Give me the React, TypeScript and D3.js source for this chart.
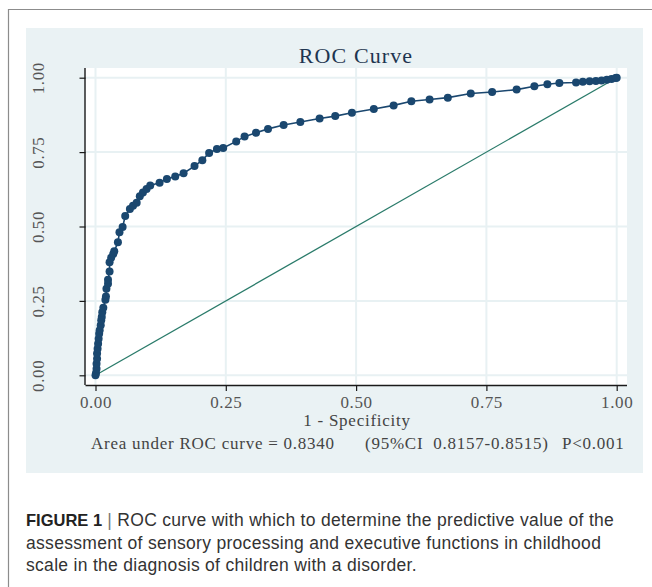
import React, { useEffect, useRef } from "react";
import * as d3 from "d3";

// ROC points: 1 - specificity (x) and sensitivity (y)
const fpr = [
  0, 0.001, 0.002, 0.002, 0.003, 0.003, 0.004, 0.005, 0.006, 0.007, 0.008, 0.01,
  0.011, 0.012, 0.013, 0.015, 0.019, 0.02, 0.021, 0.024, 0.024, 0.027, 0.027,
  0.03, 0.034, 0.036, 0.043, 0.046, 0.052, 0.057, 0.066, 0.072, 0.079, 0.085,
  0.091, 0.098, 0.105, 0.123, 0.137, 0.153, 0.169, 0.19, 0.205, 0.218, 0.233,
  0.245, 0.27, 0.286, 0.308, 0.331, 0.361, 0.393, 0.43, 0.46, 0.492, 0.534,
  0.572, 0.606, 0.641, 0.676, 0.72, 0.761, 0.808, 0.842, 0.867, 0.89, 0.922,
  0.935, 0.948, 0.96, 0.971, 0.981, 0.99, 0.998, 1,
];
const tpr = [
  0, 0.008, 0.022, 0.039, 0.056, 0.073, 0.089, 0.106, 0.123, 0.14, 0.151, 0.168,
  0.185, 0.196, 0.212, 0.227, 0.254, 0.265, 0.291, 0.308, 0.321, 0.349, 0.38,
  0.395, 0.408, 0.417, 0.447, 0.481, 0.498, 0.535, 0.559, 0.57, 0.58, 0.602,
  0.614, 0.626, 0.638, 0.647, 0.66, 0.668, 0.679, 0.703, 0.723, 0.747, 0.76,
  0.764, 0.786, 0.802, 0.815, 0.828, 0.841, 0.851, 0.863, 0.871, 0.882, 0.895,
  0.907, 0.921, 0.927, 0.933, 0.947, 0.952, 0.96, 0.971, 0.978, 0.982, 0.984,
  0.986, 0.988, 0.989, 0.991, 0.993, 0.996, 0.999, 1,
];
const refLine = [0, 1];
const xTicks = [0, 0.25, 0.5, 0.75, 1];
const yTicks = [0, 0.25, 0.5, 0.75, 1];

const chartTitle = "ROC Curve";
const xTitle = "1 - Specificity";
const aucNote = ["Area under ROC curve = 0.8340", "(95%CI  0.8157-0.8515)", "P<0.001"];
const captionLines = [
  "ROC curve with which to determine the predictive value of the",
  "assessment of sensory processing and executive functions in childhood",
  "scale in the diagnosis of children with a disorder.",
];

const W = 652;
const H = 587;
const serif = "'Liberation Serif', 'DejaVu Serif', serif";
const sans = "'Liberation Sans', Arial, sans-serif";

const App = () => {
  const ref = useRef<SVGSVGElement>(null);

  useEffect(() => {
    const svg = d3.select(ref.current);
    svg.selectAll("*").remove();

    // outer frame of the figure box
    svg.append("path")
      .attr("d", `M8.5,${H + 2} V9.5 H${W + 2}`)
      .attr("fill", "none")
      .attr("stroke", "#8c8c8c")
      .attr("stroke-width", 1.2);

    // light blue graph region
    svg.append("rect")
      .attr("x", 26).attr("y", 28)
      .attr("width", 617).attr("height", 445)
      .attr("fill", "#eaf2f4");

    const plot = { left: 85.5, right: 627, top: 68, bottom: 385 };
    const x = d3.scaleLinear().domain([0, 1]).range([95.5, 616.7]);
    const y = d3.scaleLinear().domain([0, 1]).range([375.3, 77.7]);

    svg.append("rect")
      .attr("x", plot.left).attr("y", plot.top)
      .attr("width", plot.right - plot.left)
      .attr("height", plot.bottom - plot.top)
      .attr("fill", "#ffffff");

    // grid
    svg.selectAll(".vgrid")
      .data(xTicks)
      .enter()
      .append("line")
      .attr("x1", (d) => x(d)).attr("x2", (d) => x(d))
      .attr("y1", plot.top).attr("y2", plot.bottom)
      .attr("stroke", "#e8f1f3")
      .attr("stroke-width", 2);
    svg.selectAll(".hgrid")
      .data(yTicks)
      .enter()
      .append("line")
      .attr("x1", plot.left).attr("x2", plot.right)
      .attr("y1", (d) => y(d)).attr("y2", (d) => y(d))
      .attr("stroke", "#e8f1f3")
      .attr("stroke-width", 2);

    // axes
    const xAxis = svg.append("g")
      .attr("transform", `translate(0, ${plot.bottom})`)
      .call(d3.axisBottom(x).tickValues(xTicks).tickSize(6).tickSizeOuter(0).tickPadding(5)
        .tickFormat((d) => d3.format(".2f")(d as number)));
    xAxis.select(".domain")
      .attr("d", `M${plot.left},0.5 H${plot.right}`)
      .attr("stroke", "#1a1a1a").attr("stroke-width", 1.4);
    xAxis.selectAll(".tick line").attr("stroke", "#1a1a1a").attr("stroke-width", 1.2);
    xAxis.selectAll(".tick text")
      .attr("font-family", serif).attr("font-size", 17).attr("fill", "#555")
      .attr("letter-spacing", 0.6);

    const yAxis = svg.append("g")
      .attr("transform", `translate(${plot.left}, 0)`)
      .call(d3.axisLeft(y).tickValues(yTicks).tickSize(6).tickSizeOuter(0)
        .tickFormat((d) => d3.format(".2f")(d as number)));
    yAxis.select(".domain")
      .attr("d", `M-0.5,${plot.top} V${plot.bottom}`)
      .attr("stroke", "#1a1a1a").attr("stroke-width", 1.4);
    yAxis.selectAll(".tick line").attr("stroke", "#1a1a1a").attr("stroke-width", 1.2);
    yAxis.selectAll(".tick text")
      .attr("font-family", serif).attr("font-size", 17).attr("fill", "#555")
      .attr("letter-spacing", 0.6)
      .attr("x", null).attr("dy", null)
      .attr("text-anchor", "middle")
      .attr("transform", "translate(-41.5, 0) rotate(-90)");

    // reference diagonal
    svg.append("line")
      .attr("x1", x(refLine[0])).attr("y1", y(refLine[0]))
      .attr("x2", x(refLine[1])).attr("y2", y(refLine[1]))
      .attr("stroke", "#2a7b6a")
      .attr("stroke-width", 1.3);

    // ROC curve
    const pts = fpr.map((f, i) => [f, tpr[i]] as [number, number]);
    svg.append("path")
      .datum(pts)
      .attr("d", d3.line().x((d) => x(d[0])).y((d) => y(d[1])))
      .attr("fill", "none")
      .attr("stroke", "#1a476f")
      .attr("stroke-width", 1.6);
    svg.selectAll(".pt")
      .data(pts)
      .enter()
      .append("circle")
      .attr("cx", (d) => x(d[0]))
      .attr("cy", (d) => y(d[1]))
      .attr("r", 4)
      .attr("fill", "#1a476f");

    // titles
    svg.append("text")
      .attr("x", 356).attr("y", 62.5)
      .attr("text-anchor", "middle")
      .attr("font-family", serif).attr("font-size", 22)
      .attr("letter-spacing", 1.1)
      .attr("fill", "#1e3550")
      .text(chartTitle);
    svg.append("text")
      .attr("x", 357).attr("y", 426)
      .attr("text-anchor", "middle")
      .attr("font-family", serif).attr("font-size", 17)
      .attr("letter-spacing", 0.75)
      .attr("fill", "#444")
      .text(xTitle);

    const noteX = [91, 365, 562];
    svg.selectAll(".note")
      .data(aucNote)
      .enter()
      .append("text")
      .attr("x", (d, i) => noteX[i]).attr("y", 449)
      .attr("font-family", serif).attr("font-size", 17)
      .attr("letter-spacing", 0.75)
      .attr("fill", "#444")
      .attr("xml:space", "preserve")
      .style("white-space", "pre")
      .text((d) => d);

    // figure caption
    const cap = svg.append("g").attr("font-family", sans).attr("font-size", 17.5)
      .attr("letter-spacing", 0.3).attr("fill", "#333");
    captionLines.forEach((line, i) => {
      const t = cap.append("text").attr("x", 26).attr("y", 526 + i * 22.5);
      if (i === 0) {
        t.append("tspan").attr("font-weight", "bold").attr("font-size", 16.5)
          .attr("letter-spacing", 0).attr("fill", "#222").text("FIGURE 1");
        t.append("tspan").attr("fill", "#777").text(" | ");
      }
      t.append("tspan").text(line);
    });
  }, []);

  return (
    <div style={{ position: "absolute", left: 0, top: 0 }}>
      <svg ref={ref} width={W} height={H} style={{ display: "block", background: "#fff" }} />
    </div>
  );
};

export default App;
